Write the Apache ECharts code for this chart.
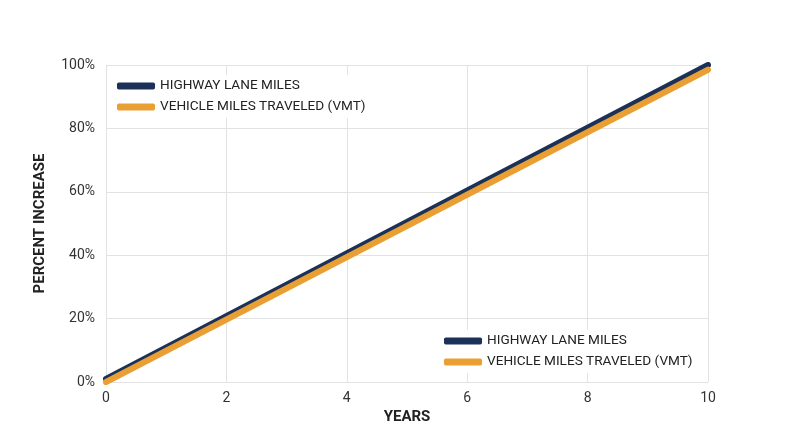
<!DOCTYPE html>
<html>
<head>
<meta charset="utf-8">
<script src="https://cdn.jsdelivr.net/npm/echarts@6/dist/echarts.min.js"></script>
<style>html,body{margin:0;padding:0;background:#fff;}#c{width:800px;height:447px;}</style>
</head>
<body>
<div id="c"></div>
<script>
const seriesNames = ['HIGHWAY LANE MILES', 'VEHICLE MILES TRAVELED (VMT)'];
const years = [0, 10];
const highwayLaneMiles = [1, 100];
const vmt = [0, 98.5];
const seriesColors = ['#1c3158', '#e99f33'];

const chart = echarts.init(document.getElementById('c'));
const legendBase = {
  orient: 'vertical',
  icon: 'roundRect',
  itemWidth: 38,
  itemHeight: 7,
  itemGap: 7,
  backgroundColor: '#fff',
  padding: [4, 4, 4, 4],
  textStyle: { fontFamily: 'Roboto', fontSize: 13.6, color: '#222' },
  data: seriesNames
};
chart.setOption({
  animation: false,
  textStyle: { fontFamily: 'Roboto' },
  grid: { left: 106, right: 92, top: 65, bottom: 65 },
  legend: [
    Object.assign({}, legendBase, { left: 113, top: 75 }),
    Object.assign({}, legendBase, { left: 440, top: 330 })
  ],
  xAxis: {
    type: 'value', min: 0, max: 10, interval: 2,
    name: 'YEARS', nameLocation: 'middle', nameGap: 28,
    nameTextStyle: { fontFamily: 'Roboto', fontWeight: 'bold', fontSize: 15, color: '#222' },
    axisLine: { show: false }, axisTick: { show: false },
    axisLabel: { fontSize: 14, color: '#333', margin: 9 },
    splitLine: { show: true, lineStyle: { color: '#e2e2e2' } }
  },
  yAxis: {
    type: 'value', min: 0, max: 100, interval: 20,
    name: 'PERCENT INCREASE', nameLocation: 'middle', nameGap: 58,
    nameTextStyle: { fontFamily: 'Roboto', fontWeight: 'bold', fontSize: 15, color: '#222' },
    axisLine: { show: false }, axisTick: { show: false },
    axisLabel: { fontSize: 14, color: '#333', formatter: '{value}%', margin: 11 },
    splitLine: { show: true, lineStyle: { color: '#e2e2e2' } }
  },
  series: [
    {
      name: seriesNames[0], type: 'line', showSymbol: false,
      data: years.map((x, i) => [x, highwayLaneMiles[i]]),
      itemStyle: { color: seriesColors[0] },
      lineStyle: { color: seriesColors[0], width: 6, cap: 'round' }
    },
    {
      name: seriesNames[1], type: 'line', showSymbol: false,
      data: years.map((x, i) => [x, vmt[i]]),
      itemStyle: { color: seriesColors[1] },
      lineStyle: { color: seriesColors[1], width: 6, cap: 'round' }
    }
  ]
});
</script>
</body>
</html>
